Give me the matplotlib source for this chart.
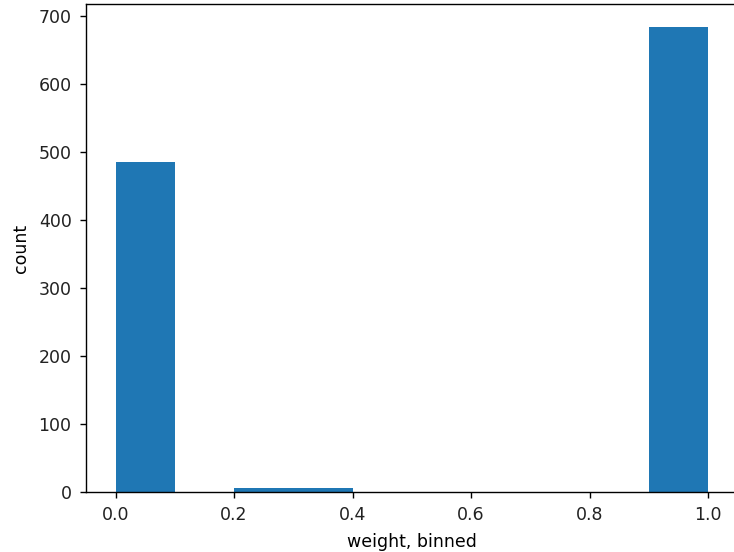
import numpy as np
import matplotlib
matplotlib.use("Agg")
import matplotlib.pyplot as plt

bin_edges = [0.0, 0.1, 0.2, 0.3, 0.4, 0.5, 0.6, 0.7, 0.8, 0.9, 1.0]
counts = [486, 0, 6, 6, 0, 0, 0, 0, 0, 684]

s = 1.25
plt.rcParams.update({
    "font.size": 10 * s,
    "xtick.major.size": 3.5 * s,
    "ytick.major.size": 3.5 * s,
    "xtick.major.pad": 6.0,
    "ytick.major.pad": 6.0,
    "axes.labelpad": 6.0,
    "axes.linewidth": 0.8 * s,
    "xtick.major.width": 0.8 * s,
    "ytick.major.width": 0.8 * s,
    "text.color": "#222222",
    "xtick.labelcolor": "#222222",
    "ytick.labelcolor": "#222222",
})

fig = plt.figure(figsize=(7.34, 5.52), dpi=100)
W, H = 734, 552
left, right, bottom, top = 86, 737.6, 492, 4
ax = fig.add_axes([left / W, (H - bottom) / H, (right - left) / W, (bottom - top) / H])
ax.hist(bin_edges[:-1], bins=bin_edges, weights=counts, color="#1f77b4")
ax.set_xlabel("weight, binned")
ax.set_ylabel("count")
fig.savefig("out.png", dpi=100)
